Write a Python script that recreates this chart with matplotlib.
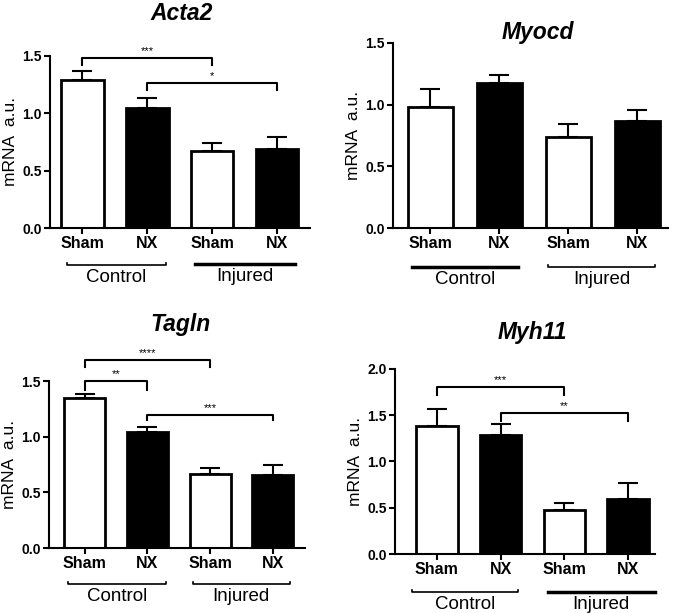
import matplotlib
matplotlib.use("Agg")
from matplotlib import pyplot as plt
from matplotlib import transforms

plt.rcParams['font.family'] = ['Liberation Sans', 'DejaVu Sans']

groups = ["Sham", "NX", "Sham", "NX"]
fills = ["white", "black", "white", "black"]

acta2 = [1.29, 1.045, 0.673, 0.69]
acta2_err = [0.08, 0.085, 0.067, 0.105]
myocd = [0.98, 1.178, 0.74, 0.868]
myocd_err = [0.147, 0.06, 0.106, 0.092]
tagln = [1.35, 1.04, 0.67, 0.66]
tagln_err = [0.04, 0.045, 0.047, 0.09]
myh11 = [1.387, 1.29, 0.476, 0.598]
myh11_err = [0.177, 0.115, 0.072, 0.166]

# brackets: (left bar, right bar, level, leg bottom, stars)
acta2_sig = [(0, 2, 1.48, 1.416, "***"), (1, 3, 1.262, 1.20, "*")]
tagln_sig = [(0, 2, 1.694, 1.63, "****"), (0, 1, 1.503, 1.425, "**"), (1, 3, 1.195, 1.15, "***")]
myh11_sig = [(0, 2, 1.80, 1.72, "***"), (1, 3, 1.52, 1.44, "**")]

fig = plt.figure(figsize=(6.75, 6.13), dpi=100)


def panel(rect, vals, errs, xlim, ymax, yticks, sig, lines):
    ax = fig.add_axes(rect)
    x = range(len(vals))
    ax.bar(x, vals, width=0.65, color=fills, edgecolor="black", linewidth=2, zorder=2)
    ax.errorbar(x, vals, yerr=[[0] * 4, errs], fmt="none", ecolor="black",
                elinewidth=1.5, capsize=7, capthick=1.5, zorder=1)
    ax.set_xlim(*xlim)
    ax.set_ylim(0, ymax)
    ax.set_yticks(yticks)
    ax.set_yticklabels(["%.1f" % t for t in yticks], fontsize=10, fontweight="bold")
    ax.set_xticks(list(x))
    ax.set_xticklabels(groups, fontsize=11.5, fontweight="bold")
    for s in ["top", "right"]:
        ax.spines[s].set_visible(False)
    for s in ["left", "bottom"]:
        ax.spines[s].set_linewidth(1.5)
    ax.tick_params(width=1.5, length=4, pad=2)
    ax.set_ylabel("mRNA  a.u.", fontsize=12.5, labelpad=3)
    for a, b, lvl, leg, st in sig:
        ax.plot([a, a, b, b], [leg, lvl, lvl, leg], color="black", lw=1.5, clip_on=False)
        ax.text((a + b) / 2, lvl + ymax * 0.01, st, ha="center", va="bottom", fontsize=8)
    tr = transforms.blended_transform_factory(ax.transData, ax.transAxes)
    for (x0, x1, yl, thick), lab in zip(lines, ["Control", "Injured"]):
        if thick:
            ax.plot([x0, x1], [yl, yl], color="black", lw=2.5, transform=tr, clip_on=False)
        else:
            ax.plot([x0, x0, x1, x1], [yl + 0.012, yl, yl, yl + 0.012], color="black",
                    lw=1.2, transform=tr, clip_on=False)
        ax.text((x0 + x1) / 2, yl - 0.022, lab, ha="center", va="top", fontsize=13.5,
                transform=tr)
    return ax


panel([0.074, 0.628, 0.385, 0.281], acta2, acta2_err, (-0.5, 3.5), 1.5,
      [0, 0.5, 1.0, 1.5], acta2_sig,
      [(-0.24, 1.28, -0.215, False), (1.73, 3.27, -0.209, True)])
panel([0.582, 0.628, 0.407, 0.302], myocd, myocd_err, (-0.54, 3.44), 1.5,
      [0, 0.5, 1.0, 1.5], [],
      [(-0.26, 1.28, -0.21, True), (1.71, 3.26, -0.21, False)])
panel([0.0726, 0.106, 0.379, 0.272], tagln, tagln_err, (-0.57, 3.51), 1.5,
      [0, 0.5, 1.0, 1.5], tagln_sig,
      [(-0.26, 1.29, -0.216, False), (1.72, 3.27, -0.216, False)])
panel([0.585, 0.0962, 0.385, 0.302], myh11, myh11_err, (-0.66, 3.42), 2.0,
      [0, 0.5, 1.0, 1.5, 2.0], myh11_sig,
      [(-0.39, 1.27, -0.205, False), (1.74, 3.42, -0.205, True)])

for t, xx, yy in [("Acta2", 182, 14), ("Myocd", 538, 32), ("Tagln", 180, 325), ("Myh11", 532, 332)]:
    fig.text(xx / 675, 1 - yy / 613, t, ha="center", va="center", fontsize=16.5,
             fontweight="bold", fontstyle="italic")

fig.savefig("out.png", dpi=100)
